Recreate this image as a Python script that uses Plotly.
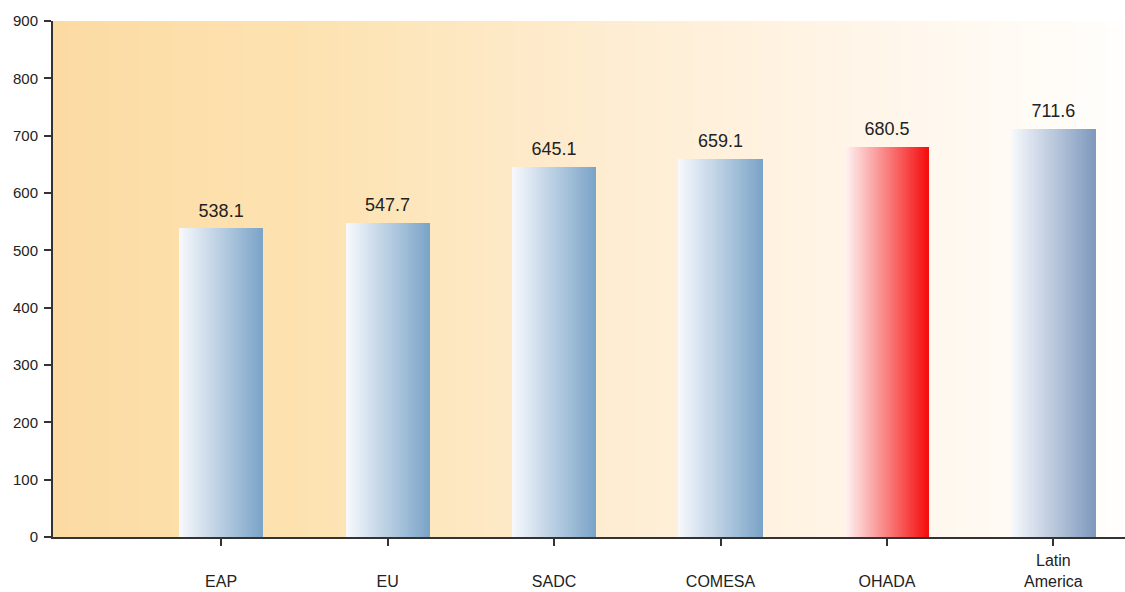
import numpy as np
import plotly.graph_objects as go

# ---- data ----
categories = ["EAP", "EU", "SADC", "COMESA", "OHADA", "Latin<br>America"]
values = [538.1, 547.7, 645.1, 659.1, 680.5, 711.6]
value_labels = ["538.1", "547.7", "645.1", "659.1", "680.5", "711.6"]
y_ticks = [0, 100, 200, 300, 400, 500, 600, 700, 800, 900]

# ---- style ----
bar_start = ["#f7f9fd", "#f7f9fd", "#f7f9fd", "#f7f9fd", "#fff4f4", "#f7f9fd"]
bar_end = ["#7aa3c7", "#7aa3c7", "#7aa3c7", "#7aa3c7", "#f60a0a", "#7e99bd"]
bar_width = 0.505
n_slices = 42
x_range = [-1.01, 5.43]
FONT = "Liberation Sans, Arial"


def hex2rgb(h):
    h = h.lstrip("#")
    return [int(h[i:i + 2], 16) for i in (0, 2, 4)]


def mix(c1, c2, t):
    a, b = hex2rgb(c1), hex2rgb(c2)
    return "rgb(%d,%d,%d)" % tuple(round(a[k] + (b[k] - a[k]) * t) for k in range(3))


xpos = list(range(len(categories)))
fig = go.Figure()

# background gradient
nx = 120
xe = np.linspace(x_range[0], x_range[1], nx + 1)
z = [list(np.linspace(0, 1, nx)), list(np.linspace(0, 1, nx))]
fig.add_trace(go.Heatmap(
    x=xe, y=[0, 450, 900], z=z, zsmooth="best", showscale=False, hoverinfo="skip",
    colorscale=[[0, "#fcdba3"], [0.25, "#fde3b2"], [0.5, "#feecd0"],
                [0.75, "#fff5e8"], [1, "#fffefc"]],
    zmin=0, zmax=1,
))

# gradient bars as slices
dw = bar_width / n_slices
for i in range(n_slices):
    t = (i + 0.5) / n_slices
    fig.add_trace(go.Bar(
        x=xpos, y=values, width=[dw * 1.08] * len(xpos),
        offset=[-bar_width / 2 + i * dw] * len(xpos),
        marker=dict(color=[mix(bar_start[k], bar_end[k], t) for k in range(len(xpos))],
                    line=dict(width=0)),
        hoverinfo="skip", showlegend=False,
    ))

# value labels
fig.add_trace(go.Scatter(
    x=xpos, y=values, mode="markers+text", text=value_labels, textposition="top center",
    marker=dict(size=10, opacity=0),
    textfont=dict(family=FONT, size=18, color="#222222"),
    showlegend=False, hoverinfo="skip", cliponaxis=False,
))

tick_text = [c if "<br>" in c else "<br>" + c for c in categories]

fig.update_layout(
    width=1125, height=592,
    margin=dict(l=53, r=0, t=21, b=55),
    paper_bgcolor="white", plot_bgcolor="white",
    barmode="overlay", bargap=0,
    showlegend=False,
    font=dict(family=FONT, color="#222222"),
    xaxis=dict(
        range=x_range, tickmode="array", tickvals=xpos, ticktext=tick_text,
        showgrid=False, zeroline=False, showline=True, linecolor="#333333", linewidth=2,
        ticks="outside", ticklen=7, tickwidth=2, tickcolor="#333333",
        tickfont=dict(size=16, color="#222222"), ticklabelstandoff=1,
        automargin=False,
    ),
    yaxis=dict(
        range=[0, 900], tickmode="array", tickvals=y_ticks,
        showgrid=False, zeroline=False, showline=True, linecolor="#333333", linewidth=2,
        ticks="outside", ticklen=7, tickwidth=2, tickcolor="#333333",
        tickfont=dict(size=15, color="#222222"), ticklabelstandoff=3,
        automargin=False,
    ),
)

fig.write_html("out.html", post_script="document.body.style.margin='0';",
               config={"displayModeBar": False})
